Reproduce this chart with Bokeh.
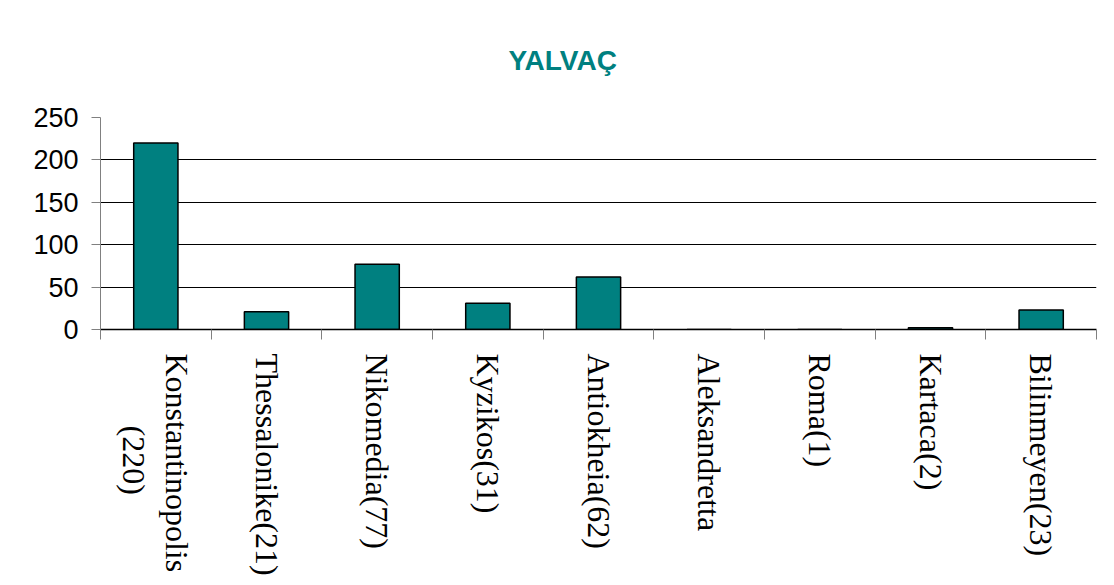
import math
from bokeh.plotting import figure
from bokeh.models import (Range1d, LinearAxis, FixedTicker, ColumnDataSource)
from bokeh.embed import file_html
from bokeh.resources import INLINE

# ---- data ----
title_text = "YALVAÇ"
categories = ["Konstantinopolis\n\u00a0\u00a0\u00a0\u00a0\u00a0\u00a0\u00a0\u00a0\u00a0(220)",
              "Thessalonike(21)", "Nikomedia(77)", "Kyzikos(31)",
              "Antiokheia(62)", "Aleksandretta", "Roma(1)", "Kartaca(2)", "Bilinmeyen(23)"]
values = [220, 21, 77, 31, 62, 0, 0, 2, 23]
y_ticks = [0, 50, 100, 150, 200, 250]
grid_ticks = [50, 100, 150, 200]

TEAL = "#008080"
n = len(categories)
centers = [i + 0.5 for i in range(n)]

src = ColumnDataSource(dict(x=centers, val=values))

p = figure(width=1114, height=585, output_backend="svg", toolbar_location=None,
           x_range=Range1d(0, n), y_range=Range1d(0, 250),
           x_axis_location=None, y_axis_location="left",
           min_border_left=100, min_border_right=18, min_border_top=117, min_border_bottom=256)
p.outline_line_color = None
p.background_fill_color = "white"
p.border_fill_color = "white"

p.title.text = title_text
p.title.align = "left"
p.title.offset = 408
p.title.standoff = 84
p.title.text_font = "Liberation Sans"
p.title.text_font_style = "bold"
p.title.text_font_size = "28px"
p.title.text_color = TEAL

p.vbar(x="x", top="val", width=0.4, source=src, fill_color=TEAL, line_color="black",
       line_width=1.5)

# y axis
ya = p.yaxis[0]
ya.ticker = FixedTicker(ticks=y_ticks)
ya.axis_line_color = "#808080"
ya.major_tick_line_color = "#808080"
ya.major_tick_out = 9
ya.major_tick_in = 0
ya.minor_tick_line_color = None
ya.major_label_text_font = "Liberation Sans"
ya.major_label_text_font_size = "27px"
ya.major_label_text_color = "black"
ya.major_label_standoff = 13

p.xgrid.visible = False
p.ygrid.ticker = FixedTicker(ticks=grid_ticks)
p.ygrid.grid_line_color = "black"
p.ygrid.grid_line_width = 1

# x axis with boundary ticks
tick_axis = LinearAxis(ticker=FixedTicker(ticks=list(range(n + 1))))
tick_axis.axis_line_color = "black"
tick_axis.axis_line_width = 1.5
tick_axis.major_tick_line_color = "#808080"
tick_axis.major_tick_out = 10
tick_axis.major_tick_in = 0
tick_axis.minor_tick_line_color = None
tick_axis.major_label_text_font_size = "0px"
tick_axis.major_label_standoff = 0
p.add_layout(tick_axis, "below")

cat_axis = LinearAxis(ticker=FixedTicker(ticks=centers),
                      major_label_overrides={c: lab for c, lab in zip(centers, categories)})
cat_axis.axis_line_color = None
cat_axis.major_tick_line_color = None
cat_axis.minor_tick_line_color = None
cat_axis.major_tick_out = 0
cat_axis.major_tick_in = 0
cat_axis.major_label_orientation = -math.pi / 2
cat_axis.major_label_text_font = "Liberation Serif"
cat_axis.major_label_text_font_size = "32px"
cat_axis.major_label_text_color = "black"
cat_axis.major_label_standoff = 14
p.add_layout(cat_axis, "below")

open("out.html", "w").write(file_html(p, INLINE))
